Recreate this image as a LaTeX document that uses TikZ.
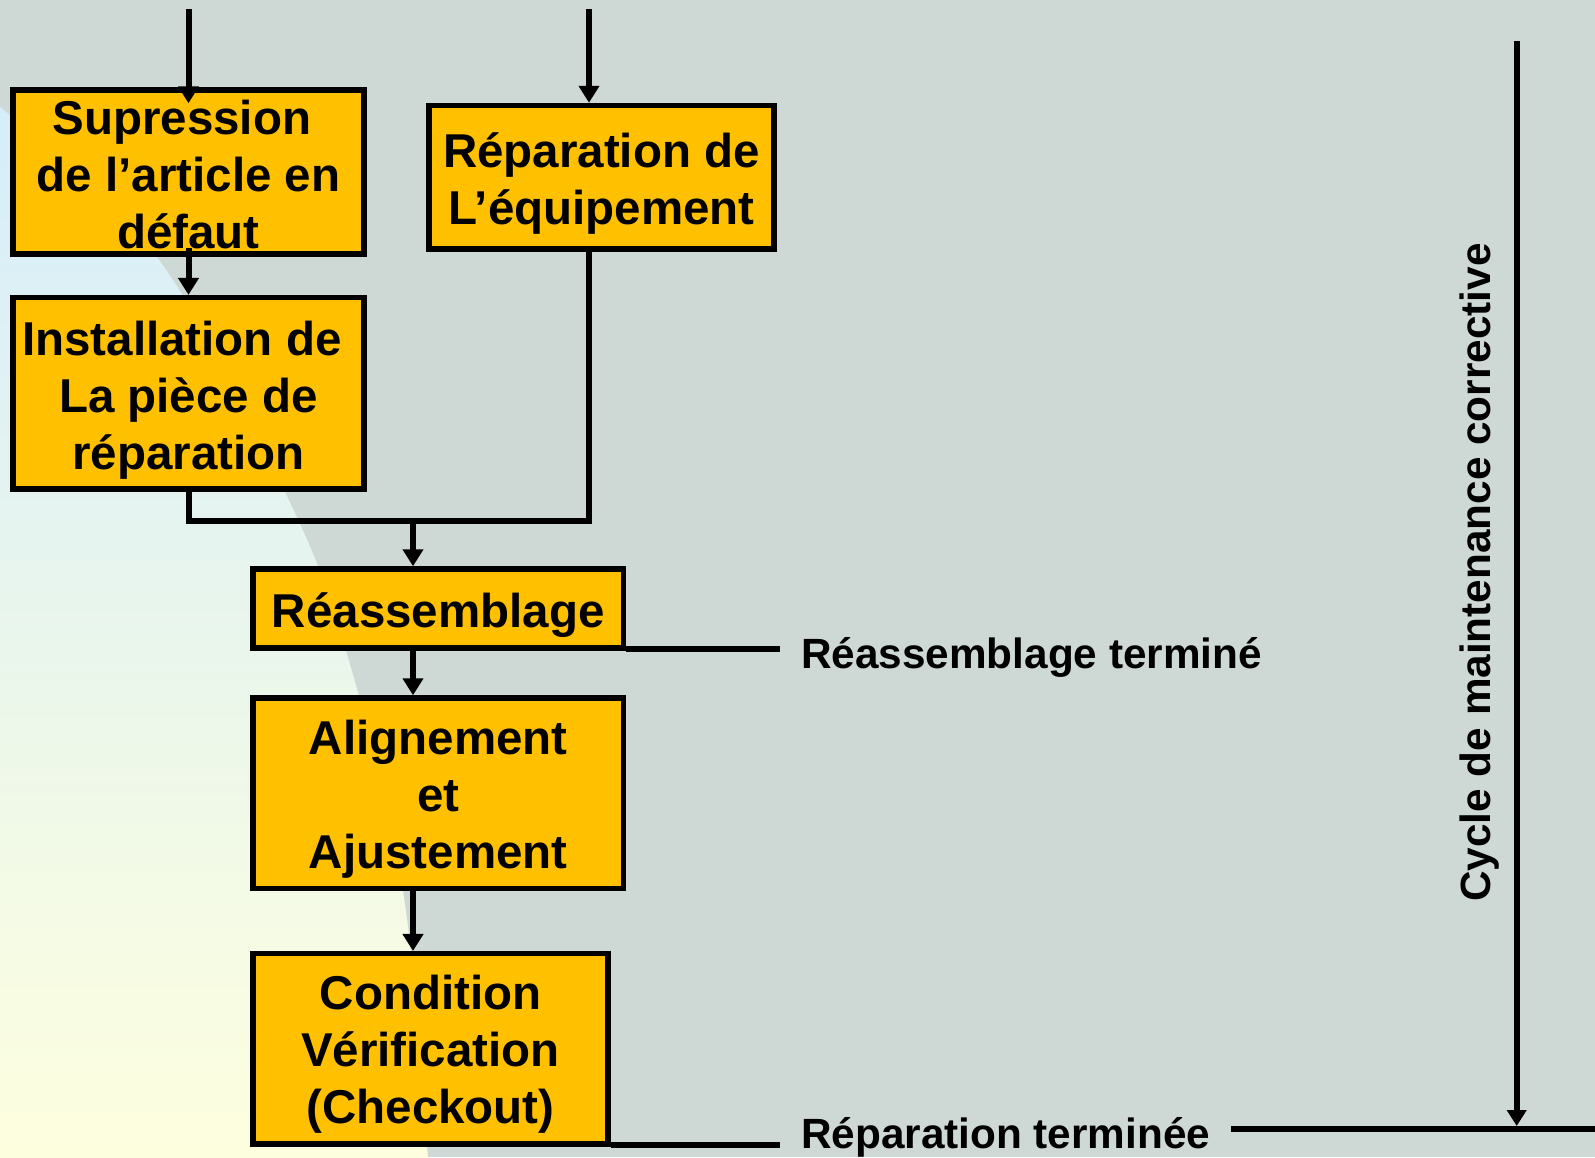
\documentclass[tikz,border=0pt]{standalone}
\usepackage{fontspec}
\setmainfont{Liberation Sans}
\usetikzlibrary{arrows.meta,calc}
\definecolor{bggray}{RGB}{206,216,213}
\definecolor{boxfill}{RGB}{255,192,0}
\definecolor{lblue}{RGB}{213,237,251}
\definecolor{lmid}{RGB}{236,247,244}
\definecolor{lyellow}{RGB}{255,255,221}
\newcommand{\boxfont}{\fontsize{47.5pt}{57pt}\selectfont\bfseries}
\newcommand{\lblfont}{\fontsize{42.3pt}{50pt}\selectfont\bfseries}
\begin{document}
\begin{tikzpicture}[x=1pt,y=-1pt,
  stepbox/.style={draw=black, line width=5.5pt, fill=boxfill, inner sep=0pt,
    align=center, font=\boxfont, text depth=0pt},
  conn/.style={line width=6pt, draw=black},
  arr/.style={conn, -{Triangle[width=20pt,length=17pt]}},
  lbl/.style={inner sep=0pt, font=\lblfont, anchor=base west}]
\useasboundingbox (0,0) rectangle (1595,1157);
\fill[bggray] (0,0) rectangle (1595,1157);
\shade[top color=lblue, middle color=lmid, bottom color=lyellow]
  (-2,100) -- plot[smooth, tension=0.6] coordinates {(0,107) (157,257) (286,494) (347,654) (403,891) (428,1157) (430,1160)}
  -- (-2,1160) -- cycle;

\node[stepbox, minimum width=351pt, minimum height=164pt, text height=152pt] (b1) at (188.5,172)
  {Supression\hspace*{0.28em}\\de l’article en\\défaut};
\node[stepbox, minimum width=345pt, minimum height=143.5pt, text height=93.5pt] (b2) at (601.5,177.25)
  {Réparation de\\L’équipement};
\node[stepbox, minimum width=351pt, minimum height=191.3pt, text height=151.4pt] (b3) at (188.5,393.3)
  {Installation de\hspace*{0.28em}\\La pièce de\hspace*{0.28em}\\réparation};
\node[stepbox, minimum width=370.5pt, minimum height=79pt, text height=40pt, text depth=3pt] (b4) at (438.25,608.5)
  {Réassemblage};
\node[stepbox, minimum width=370.5pt, minimum height=190.5pt, text height=149.5pt] (b5) at (438.25,793.25)
  {Alignement\\et\\Ajustement};
\node[stepbox, minimum width=355pt, minimum height=190.3pt, text height=148.3pt] (b6) at (430.5,1048.85)
  {Condition\\Vérification\\(Checkout)};

\coordinate (in1) at (188.5,9);
\coordinate (in2) at (589,9);
\coordinate (jn) at (413,521);
\coordinate (r1) at (780,648.5);
\coordinate (r2) at (780,1145);
\coordinate (rl) at (1231,1129);
\coordinate (rr) at (1600,1129);
\coordinate (va) at (1516.7,41);
\coordinate (vb) at (1516.7,1126);

\draw[arr] (in1) -- ([yshift=-16pt]b1.north);
\draw[arr] ([yshift=9pt]b1.south) -- (b3.north);
\draw[arr] (in2) -- (in2 |- b2.north);
\draw[conn] (b3.south) -- (b3.south |- jn) -- (jn -| in2) -- (in2 |- b2.south);
\draw[arr] (jn) -- (jn |- b4.north);
\draw[arr] (jn |- b4.south) -- (jn |- b5.north);
\draw[arr] (jn |- b5.south) -- (jn |- b6.north);
\draw[conn] (r1 -| b4.east) -- (r1);
\draw[conn] (r2 -| b6.east) -- (r2);
\draw[conn] (rl) -- (rr);
\draw[line width=6pt, -{Triangle[width=19pt,length=16pt]}] (va) -- (vb);

\node[lbl] (l1) at (801,668) {Réassemblage terminé};
\node[lbl] (l2) at (801,1148) {Réparation terminée};
\node[inner sep=0pt, font=\lblfont, rotate=90, anchor=base] (cyc) at (1490,572.5) {Cycle de maintenance corrective};
\end{tikzpicture}
\end{document}
